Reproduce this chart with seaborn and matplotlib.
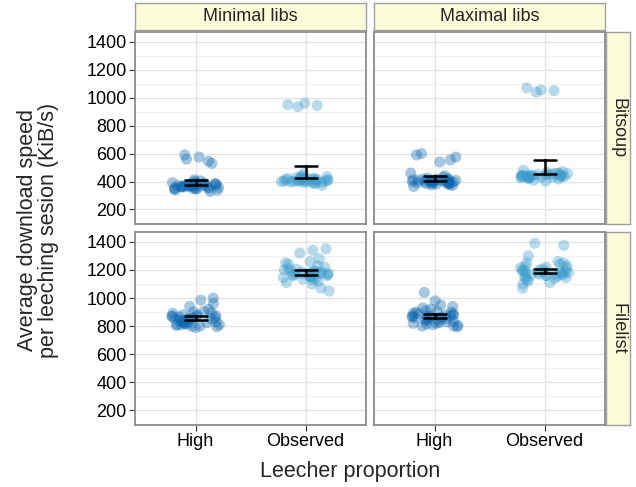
import numpy as np
import pandas as pd
import matplotlib
matplotlib.use("Agg")
import matplotlib.pyplot as plt
import seaborn as sns

# ---------------- data ----------------
libs_levels = ["Minimal libs", "Maximal libs"]
tracker_levels = ["Bitsoup", "Filelist"]
proportion_levels = ["High", "Observed"]

bitsoup_min_high = [340, 352, 365, 371, 358, 380, 395, 347, 362, 376, 389, 330, 368, 354,
                    372, 384, 361, 349, 377, 392, 405, 338, 366, 359, 383, 370, 345, 357,
                    374, 398, 363, 351, 380, 412, 367, 530, 545, 560, 575, 590]
bitsoup_min_obs = [395, 410, 420, 402, 415, 388, 430, 405, 398, 412, 425, 418, 392, 408,
                   440, 400, 414, 406, 396, 422, 411, 385, 403, 428, 417, 399, 409, 436,
                   394, 413, 372, 421, 404, 455, 945, 960, 950, 935]
bitsoup_max_high = [385, 398, 410, 402, 375, 420, 392, 415, 405, 380, 396, 430, 388, 408,
                    400, 372, 418, 394, 412, 440, 390, 403, 365, 425, 399, 386, 411, 406,
                    378, 393, 460, 401, 397, 414, 383, 540, 555, 575, 590, 600]
bitsoup_max_obs = [430, 445, 438, 452, 425, 460, 440, 435, 448, 418, 455, 442, 428, 470,
                   436, 447, 432, 458, 441, 422, 450, 437, 465, 433, 444, 410, 456, 439,
                   426, 449, 480, 434, 443, 402, 1050, 1055, 1070, 1040]
filelist_min_high = [800, 795, 810, 880, 870, 850, 830, 900, 920, 1000, 985, 960, 870, 840,
                     820, 810, 860, 890, 905, 850, 830, 800, 845, 870, 880, 815, 825, 865,
                     835, 855, 940, 810, 875, 895, 805, 850, 830, 860, 820, 790]
filelist_min_obs = [1350, 1320, 1340, 1260, 1230, 1200, 1180, 1160, 1150, 1170, 1190, 1140,
                    1130, 1210, 1175, 1165, 1185, 1155, 1145, 1050, 1070, 1100, 1120, 1195,
                    1205, 1160, 1180, 1250, 1220, 1170, 1135, 1110, 1190, 1175, 1150, 1165,
                    1280, 1240, 1185, 1160]
filelist_max_high = [1040, 980, 950, 930, 900, 920, 880, 870, 860, 850, 840, 830, 820, 810,
                     800, 890, 905, 875, 865, 855, 845, 835, 825, 815, 805, 900, 870, 880,
                     860, 850, 940, 910, 885, 865, 845, 820, 800, 795, 870, 890]
filelist_max_obs = [1390, 1375, 1300, 1260, 1250, 1230, 1220, 1200, 1190, 1180, 1170, 1160,
                    1150, 1140, 1130, 1120, 1100, 1070, 1210, 1195, 1185, 1175, 1165, 1155,
                    1145, 1205, 1215, 1180, 1190, 1170, 1160, 1250, 1240, 1110, 1200, 1185,
                    1175, 1165, 1140, 1225]

y_ticks = [200, 400, 600, 800, 1000, 1200, 1400]

groups = {
    ("Minimal libs", "Bitsoup", "High"): bitsoup_min_high,
    ("Minimal libs", "Bitsoup", "Observed"): bitsoup_min_obs,
    ("Maximal libs", "Bitsoup", "High"): bitsoup_max_high,
    ("Maximal libs", "Bitsoup", "Observed"): bitsoup_max_obs,
    ("Minimal libs", "Filelist", "High"): filelist_min_high,
    ("Minimal libs", "Filelist", "Observed"): filelist_min_obs,
    ("Maximal libs", "Filelist", "High"): filelist_max_high,
    ("Maximal libs", "Filelist", "Observed"): filelist_max_obs,
}
rows = []
for (lib, tr, prop), vals in groups.items():
    for v in vals:
        rows.append({"libs": lib, "tracker": tr, "proportion": prop, "speed": v})
df = pd.DataFrame(rows)

# ---------------- style ----------------
sns.set_style("white")
plt.rcParams["font.family"] = ["Liberation Sans", "DejaVu Sans"]

W, H = 636, 487
fig = plt.figure(figsize=(W / 100, H / 100), dpi=100)


def rect(l, t, r, b):
    return [l / W, 1 - b / H, (r - l) / W, (b - t) / H]


col_x = [(135, 366), (374, 605)]
row_y = [(32, 224), (232, 425)]
strip_col = "#fdfcd9"
edge_col = "#8c8c8c"
palette = {"High": "#0a66b0", "Observed": "#3a9bcc"}

np.random.seed(7)
for ri, tr in enumerate(tracker_levels):
    for ci, lib in enumerate(libs_levels):
        l, r = col_x[ci]
        t, b = row_y[ri]
        ax = fig.add_axes(rect(l, t, r, b))
        sub = df[(df.libs == lib) & (df.tracker == tr)]
        sns.stripplot(data=sub, x="proportion", y="speed", hue="proportion",
                      order=proportion_levels, hue_order=proportion_levels,
                      palette=palette, jitter=0.22, size=8, alpha=0.36,
                      linewidth=0, legend=False, ax=ax, zorder=2)
        sns.pointplot(data=sub, x="proportion", y="speed", order=proportion_levels,
                      errorbar=("se", 1.65), capsize=0.2, color="black",
                      linestyle="none", marker="", err_kws={"linewidth": 1.8},
                      ax=ax, zorder=3)
        ax.set_xlim(-0.55, 1.55)
        ax.set_ylim(96, 1470)
        ax.set_yticks(y_ticks)
        ax.set_yticks(list(range(100, 1500, 200)), minor=True)
        ax.set_axisbelow(True)
        ax.grid(which="major", axis="y", color="#e4e4e4", lw=1.0)
        ax.grid(which="minor", axis="y", color="#f1f1f1", lw=1.0)
        ax.grid(which="major", axis="x", color="#e4e4e4", lw=1.0)
        ax.set_xlabel("")
        ax.set_ylabel("")
        for s in ax.spines.values():
            s.set_color(edge_col)
            s.set_linewidth(1.3)
        ax.tick_params(which="minor", length=0)
        ax.tick_params(which="major", direction="out", length=4, width=0.8,
                       color="#333333", labelsize=13, labelcolor="black", pad=2)
        if ci == 0:
            ax.tick_params(axis="y", left=True, labelleft=True)
        else:
            ax.tick_params(axis="y", left=False, labelleft=False)
        if ri == 1:
            ax.tick_params(axis="x", bottom=True, labelbottom=True)
        else:
            ax.tick_params(axis="x", bottom=False, labelbottom=False)

# top strips
for ci, lib in enumerate(libs_levels):
    l, r = col_x[ci]
    sax = fig.add_axes(rect(l, 3, r, 30))
    sax.set_facecolor(strip_col)
    sax.set_xticks([]); sax.set_yticks([])
    for s in sax.spines.values():
        s.set_color("#a0a0a0"); s.set_linewidth(1.0)
    sax.text(0.5, 0.5, lib, ha="center", va="center", fontsize=13,
             transform=sax.transAxes)

# right strips
for ri, tr in enumerate(tracker_levels):
    t, b = row_y[ri]
    sax = fig.add_axes(rect(606, t, 630, b))
    sax.set_facecolor(strip_col)
    sax.set_xticks([]); sax.set_yticks([])
    for s in sax.spines.values():
        s.set_color("#a0a0a0"); s.set_linewidth(1.0)
    sax.text(0.5, 0.5, tr, ha="center", va="center", fontsize=13,
             rotation=270, transform=sax.transAxes)

fig.text(350 / W, 1 - 472 / H, "Leecher proportion", ha="center", va="center",
         fontsize=15.5)
fig.text(38 / W, 1 - 230 / H, "Average download speed\nper leeching sesion (KiB/s)",
         ha="center", va="center", rotation=90, fontsize=15.5, linespacing=1.05)

fig.savefig("out.png", dpi=100)
